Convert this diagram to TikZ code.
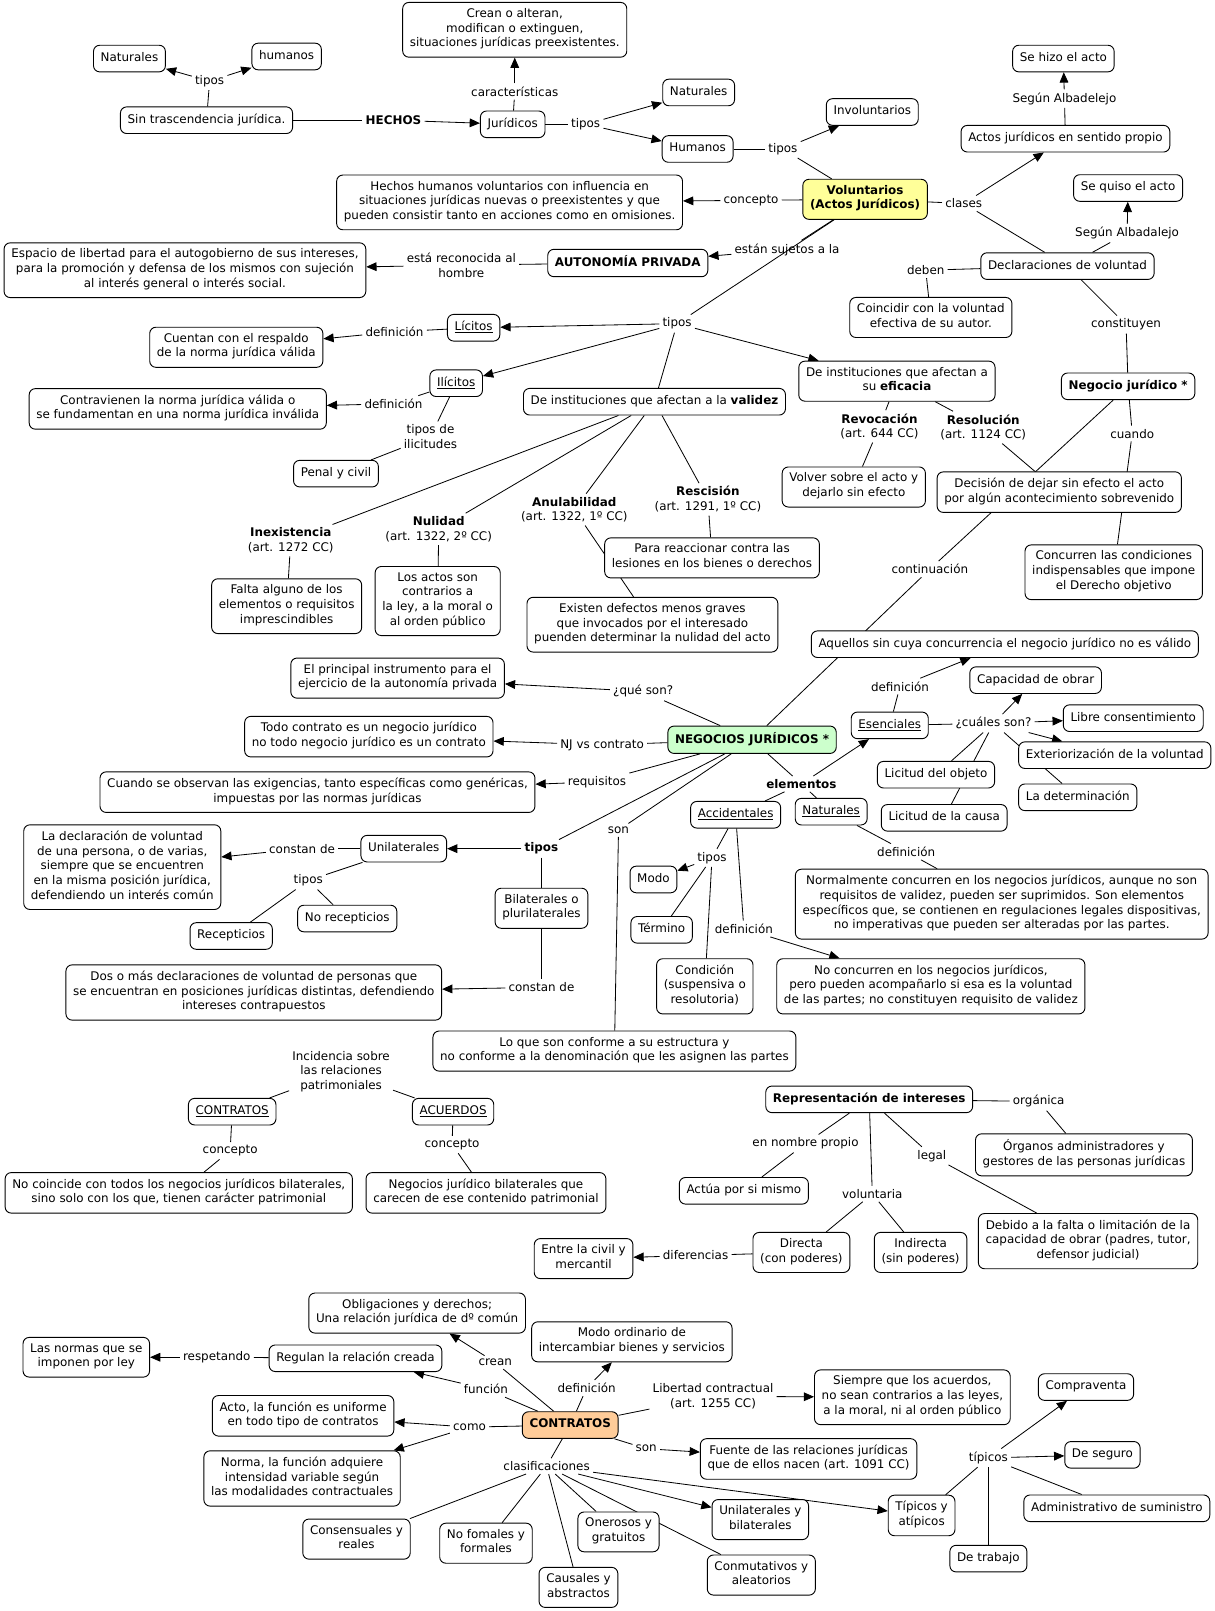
\documentclass[tikz,border=0pt]{standalone}
\usepackage{fontspec}
\setmainfont{DejaVu Sans}
\usetikzlibrary{arrows.meta,backgrounds}

\definecolor{volfill}{HTML}{FFFF99}
\definecolor{negfill}{HTML}{CCFFCC}
\definecolor{confill}{HTML}{FFCC99}

\newcommand{\cmfont}{\fontsize{11.6}{14.3}\selectfont}

\tikzset{
  % boxed concept
  concept/.style={draw, line width=0.9pt, rounded corners=6pt, fill=white,
    align=center, inner xsep=7pt, inner ysep=5.8pt, font=\cmfont,
    execute at begin node=\strut, execute at end node=\strut},
  % linking phrase (no box)
  linkph/.style={align=center, inner sep=3pt, font=\cmfont},
  cmline/.style={line width=0.8pt},
  cmarrow/.style={line width=0.8pt, -{Triangle[length=10pt,width=8.5pt]}}
}

\begin{document}
\begin{tikzpicture}[x=1pt, y=-1pt]

\useasboundingbox (0,-1) rectangle (1182,1567);

% ================================================================
% HECHOS
% ================================================================
\node[concept] (natA) at (126,56) {Naturales};
\node[concept] (humA) at (279,54) {humanos};
\node[linkph] (tiposA) at (204,78) {tipos};
\node[concept] (sinTras) at (201,116) {Sin trascendencia jurídica.};
\node[linkph, font=\cmfont\bfseries] (hechos) at (383,116) {HECHOS};
\node[concept] (creanBox) at (501,28) {Crean o alteran,\\modifican o extinguen,\\situaciones jurídicas preexistentes.};
\node[linkph] (caract) at (501,88) {características};
\node[concept] (juridicos) at (499,120) {Jurídicos};
\node[linkph] (tiposB) at (570,120) {tipos};
\node[concept] (natB) at (680,89) {Naturales};
\node[concept] (humB) at (679,144) {Humanos};
\node[linkph] (tiposC) at (762,144) {tipos};
\node[concept] (involunt) at (849,108) {Involuntarios};
\node[concept, fill=volfill, font=\cmfont\bfseries] (volunt) at (842,193) {Voluntarios\\(Actos Jurídicos)};
\node[concept] (hechHum) at (496,196) {Hechos humanos voluntarios con influencia en\\situaciones jurídicas nuevas o preexistentes y que\\pueden consistir tanto en acciones como en omisiones.};
\node[linkph] (concA) at (731,194) {concepto};

% ================================================================
% Clases de actos
% ================================================================
\node[linkph] (clases) at (938,197) {clases};
\node[concept] (actosProp) at (1037,134) {Actos jurídicos en sentido propio};
\node[linkph] (segunA) at (1036,95) {Según Albadelejo};
\node[concept] (seHizo) at (1035,56) {Se hizo el acto};
\node[concept] (seQuiso) at (1098,182) {Se quiso el acto};
\node[linkph] (segunB) at (1097,226) {Según Albadalejo};
\node[concept] (declar) at (1039,258) {Declaraciones de voluntad};
\node[linkph] (deben) at (901,262) {deben};
\node[concept] (coincidir) at (906,308) {Coincidir con la voluntad\\efectiva de su autor.};
\node[linkph] (constit) at (1096,315) {constituyen};
\node[concept, font=\cmfont\bfseries] (negJur) at (1098,375) {Negocio jurídico *};
\node[linkph] (cuandoL) at (1102,421) {cuando};

% ================================================================
% Autonomia privada y tipos
% ================================================================
\node[concept, font=\cmfont\bfseries] (autPriv) at (611,255) {AUTONOMÍA PRIVADA};
\node[linkph] (sujetos) at (766,242) {están sujetos a la};
\node[linkph] (reconoc) at (449,257) {está reconocida al\\hombre};
\node[concept] (espacio) at (180,262) {Espacio de libertad para el autogobierno de sus intereses,\\para la promoción y defensa de los mismos con sujeción\\al interés general o interés social.};
\node[linkph] (tiposD) at (659,314) {tipos};
\node[concept] (licitos) at (461,318) {\underline{Lícitos}};
\node[linkph] (defA) at (384,322) {definición};
\node[concept] (cuentan) at (230,337) {Cuentan con el respaldo\\de la norma jurídica válida};
\node[concept] (ilicitos) at (444,372) {\underline{Ilícitos}};
\node[linkph] (defB) at (383,392) {definición};
\node[concept] (contrav) at (173,397) {Contravienen la norma jurídica válida o\\se fundamentan en una norma jurídica inválida};
\node[linkph] (tiposIlic) at (419,424) {tipos de\\ilicitudes};
\node[concept] (penal) at (327,460) {Penal y civil};

% ================================================================
% Validez / eficacia
% ================================================================
\node[concept] (validez) at (637,390) {De instituciones que afectan a la \textbf{validez}};
\node[concept] (eficacia) at (873,370) {De instituciones que afectan a\\su \textbf{eficacia}};
\node[linkph] (revoc) at (856,414) {\textbf{Revocación}\\(art. 644 CC)};
\node[linkph] (resol) at (957,415) {\textbf{Resolución}\\(art. 1124 CC)};
\node[concept] (volver) at (831,473) {Volver sobre el acto y\\dejarlo sin efecto};
\node[concept] (decision) at (1031,478) {Decisión de dejar sin efecto el acto\\por algún acontecimiento sobrevenido};
\node[concept] (concurren) at (1084,556) {Concurren las condiciones\\indispensables que impone\\el Derecho objetivo};
\node[linkph] (contin) at (905,553) {continuación};
\node[linkph] (inexist) at (283,525) {\textbf{Inexistencia}\\(art. 1272 CC)};
\node[linkph] (nulidad) at (427,514) {\textbf{Nulidad}\\(art. 1322, 2º CC)};
\node[linkph] (anulab) at (559,495) {\textbf{Anulabilidad}\\(art. 1322, 1º CC)};
\node[linkph] (rescis) at (689,485) {\textbf{Rescisión}\\(art. 1291, 1º CC)};
\node[concept] (falta) at (279,589) {Falta alguno de los\\elementos o requisitos\\imprescindibles};
\node[concept] (actosContr) at (426,584) {Los actos son\\contrarios a\\la ley, a la moral o\\al orden público};
\node[concept] (reaccion) at (693,542) {Para reaccionar contra las\\lesiones en los bienes o derechos};
\node[concept] (defectos) at (635,607) {Existen defectos menos graves\\que invocados por el interesado\\puenden determinar la nulidad del acto};

% ================================================================
% NEGOCIOS JURIDICOS
% ================================================================
\node[concept] (aquellos) at (978,626) {Aquellos sin cuya concurrencia el negocio jurídico no es válido};
\node[concept] (principal) at (387,659) {El principal instrumento para el\\ejercicio de la autonomía privada};
\node[linkph] (queSon) at (626,672) {¿qué son?};
\node[concept] (todoContr) at (359,716) {Todo contrato es un negocio jurídico\\no todo negocio jurídico es un contrato};
\node[linkph] (njVs) at (586,724) {NJ vs contrato};
\node[concept, fill=negfill, font=\cmfont\bfseries] (negocios) at (732,719) {NEGOCIOS JURÍDICOS *};
\node[linkph] (defC) at (876,667) {definición};
\node[concept] (capacidad) at (1008,661) {Capacidad de obrar};
\node[concept] (esenc) at (866,705) {\underline{Esenciales}};
\node[linkph] (cuales) at (967,703) {¿cuáles son?};
\node[concept] (libre) at (1103,698) {Libre consentimiento};
\node[concept] (exterior) at (1085,734) {Exteriorización de la voluntad};
\node[concept] (licObj) at (911,753) {Licitud del objeto};
\node[concept] (determ) at (1049,775) {La determinación};
\node[concept] (licCausa) at (919,795) {Licitud de la causa};
\node[linkph] (requis) at (581,760) {requisitos};
\node[concept] (cuandoObs) at (309,770) {Cuando se observan las exigencias, tanto específicas como genéricas,\\impuestas por las normas jurídicas};
\node[linkph, font=\cmfont\bfseries] (elementos) at (780,762) {elementos};
\node[concept] (accid) at (716,792) {\underline{Accidentales}};
\node[concept] (naturC) at (809,789) {\underline{Naturales}};
\node[linkph] (defD) at (882,828) {definición};
\node[concept] (normalm) at (975,879) {Normalmente concurren en los negocios jurídicos, aunque no son\\requisitos de validez, pueden ser suprimidos. Son elementos\\específicos que, se contienen en regulaciones legales dispositivas,\\no imperativas que pueden ser alteradas por las partes.};
\node[linkph] (sonA) at (602,807) {son};
\node[linkph, font=\cmfont\bfseries] (tiposBold) at (527,825) {tipos};
\node[concept] (unilat) at (393,825) {Unilaterales};
\node[linkph] (constA) at (294,825) {constan de};
\node[concept] (laDecl) at (119,843) {La declaración de voluntad\\de una persona, o de varias,\\siempre que se encuentren\\en la misma posición jurídica,\\defendiendo un interés común};
\node[linkph] (tiposE) at (300,856) {tipos};
\node[concept] (noRecep) at (338,893) {No recepticios};
\node[concept] (recep) at (225,910) {Recepticios};
\node[concept] (bilat) at (527,883) {Bilaterales o\\plurilaterales};
\node[linkph] (constB) at (527,960) {constan de};
\node[concept] (dosMas) at (247,965) {Dos o más declaraciones de voluntad de personas que\\se encuentran en posiciones jurídicas distintas, defendiendo\\intereses contrapuestos};
\node[linkph] (tiposF) at (693,834) {tipos};
\node[concept] (modo) at (636,855) {Modo};
\node[concept] (termino) at (644,904) {Término};
\node[linkph] (defE) at (724,903) {definición};
\node[concept] (condic) at (686,959) {Condición\\(suspensiva o\\resolutoria)};
\node[concept] (noConc) at (906,959) {No concurren en los negocios jurídicos,\\pero pueden acompañarlo si esa es la voluntad\\de las partes; no constituyen requisito de validez};
\node[concept] (loQue) at (598,1022) {Lo que son conforme a su estructura y\\no conforme a la denominación que les asignen las partes};

% ================================================================
% Contratos / acuerdos, representacion
% ================================================================
\node[linkph] (incid) at (332,1042) {Incidencia sobre\\las relaciones\\patrimoniales};
\node[concept] (contrA) at (226,1081) {\underline{CONTRATOS}};
\node[concept] (acuerdos) at (441,1081) {\underline{ACUERDOS}};
\node[linkph] (concB) at (224,1119) {concepto};
\node[linkph] (concC) at (440,1113) {concepto};
\node[concept] (noCoinc) at (174,1160) {No coincide con todos los negocios jurídicos bilaterales,\\sino solo con los que, tienen carácter patrimonial};
\node[concept] (negBil) at (473,1160) {Negocios jurídico bilaterales que\\carecen de ese contenido patrimonial};
\node[concept, font=\cmfont\bfseries] (repres) at (846,1069) {Representación de intereses};
\node[linkph] (organica) at (1011,1071) {orgánica};
\node[concept] (organos) at (1055,1123) {Órganos administradores y\\gestores de las personas jurídicas};
\node[linkph] (nombre) at (784,1112) {en nombre propio};
\node[linkph] (legal) at (907,1124) {legal};
\node[concept] (actua) at (724,1158) {Actúa por si mismo};
\node[linkph] (voluntL) at (849,1161) {voluntaria};
\node[concept] (debido) at (1059,1207) {Debido a la falta o limitación de la\\capacidad de obrar (padres, tutor,\\defensor judicial)};
\node[concept] (directa) at (780,1218) {Directa\\(con poderes)};
\node[concept] (indirecta) at (896,1218) {Indirecta\\(sin poderes)};
\node[linkph] (difer) at (677,1221) {diferencias};
\node[concept] (entre) at (568,1224) {Entre la civil y\\mercantil};

% ================================================================
% CONTRATOS
% ================================================================
\node[concept] (obligac) at (406,1277) {Obligaciones y derechos;\\Una relación jurídica de dº común};
\node[concept] (modoOrd) at (615,1305) {Modo ordinario de\\intercambiar bienes y servicios};
\node[concept] (normasLey) at (84,1320) {Las normas que se\\imponen por ley};
\node[linkph] (respet) at (211,1320) {respetando};
\node[concept] (regulan) at (346,1321) {Regulan la relación creada};
\node[linkph] (creanL) at (482,1325) {crean};
\node[linkph] (funcion) at (473,1351) {función};
\node[linkph] (defF) at (571,1350) {definición};
\node[linkph] (libertad) at (694,1358) {Libertad contractual\\(art. 1255 CC)};
\node[concept] (siempre) at (888,1359) {Siempre que los acuerdos,\\no sean contrarios a las leyes,\\a la moral, ni al orden público};
\node[concept] (actoFunc) at (295,1377) {Acto, la función es uniforme\\en todo tipo de contratos};
\node[linkph] (como) at (457,1388) {como};
\node[concept, fill=confill, font=\cmfont\bfseries] (contrB) at (555,1386) {CONTRATOS};
\node[concept] (normaFunc) at (294,1438) {Norma, la función adquiere\\intensidad variable según\\las modalidades contractuales};
\node[linkph] (sonB) at (629,1409) {son};
\node[concept] (fuente) at (787,1419) {Fuente de las relaciones jurídicas\\que de ellos nacen (art. 1091 CC)};
\node[linkph] (clasif) at (532,1426) {clasificaciones};
\node[linkph] (tipicosL) at (962,1418) {típicos};
\node[concept] (compra) at (1057,1349) {Compraventa};
\node[concept] (seguro) at (1073,1415) {De seguro};
\node[concept] (admin) at (1087,1467) {Administrativo de suministro};
\node[concept] (tipAt) at (897,1474) {Típicos y\\atípicos};
\node[concept] (trabajo) at (962,1516) {De trabajo};
\node[concept] (consens) at (347,1497) {Consensuales y\\reales};
\node[concept] (noFom) at (473,1501) {No fomales y\\formales};
\node[concept] (causales) at (563,1544) {Causales y\\abstractos};
\node[concept] (onerosos) at (602,1490) {Onerosos y\\gratuitos};
\node[concept] (uniBil) at (740,1478) {Unilaterales y\\bilaterales};
\node[concept] (conmut) at (741,1532) {Conmutativos y\\aleatorios};

% ================================================================
% Connectors (behind the boxes)
% ================================================================
\begin{scope}[on background layer]
\foreach \a/\b in {sinTras/tiposA, sinTras/hechos, juridicos/caract, juridicos/tiposB,
    humB/tiposC, tiposC/volunt, volunt/concA, volunt/clases, clases/declar,
    actosProp/segunA, declar/segunB, declar/deben, deben/coincidir, declar/constit,
    constit/negJur, volunt/sujetos, autPriv/reconoc, volunt/tiposD, tiposD/validez,
    licitos/defA, ilicitos/defB, ilicitos/tiposIlic, tiposIlic/penal,
    validez/inexist, validez/nulidad, validez/anulab, validez/rescis,
    inexist/falta, nulidad/actosContr, anulab/defectos, rescis/reaccion,
    eficacia/revoc, eficacia/resol, revoc/volver, resol/decision,
    negJur/cuandoL, cuandoL/concurren, negJur/contin, contin/negocios,
    negocios/queSon, negocios/njVs, negocios/requis, negocios/elementos,
    elementos/accid, elementos/naturC, esenc/defC, esenc/cuales,
    cuales/licObj, cuales/licCausa, cuales/determ, naturC/defD, defD/normalm,
    accid/tiposF, tiposF/termino, tiposF/condic, accid/defE,
    negocios/sonA, sonA/loQue, negocios/tiposBold, tiposBold/bilat,
    unilat/constA, unilat/tiposE, tiposE/noRecep, tiposE/recep, bilat/constB,
    incid/contrA, incid/acuerdos, contrA/concB, concB/noCoinc, acuerdos/concC, concC/negBil,
    repres/organica, organica/organos, repres/nombre, nombre/actua,
    repres/legal, legal/debido, repres/voluntL, voluntL/directa, voluntL/indirecta,
    directa/difer, contrB/creanL, contrB/funcion, regulan/respet, contrB/defF,
    contrB/libertad, contrB/como, contrB/sonB, contrB/clasif,
    clasif/consens, clasif/noFom, clasif/causales, clasif/onerosos, clasif/conmut,
    tipAt/tipicosL, tipicosL/admin, tipicosL/trabajo}
  \draw[cmline] (\a) -- (\b);

\foreach \a/\b in {tiposA/natA, tiposA/humA, hechos/juridicos, caract/creanBox,
    tiposB/natB, tiposB/humB, tiposC/involunt, concA/hechHum, clases/actosProp,
    segunA/seHizo, segunB/seQuiso, sujetos/autPriv, reconoc/espacio,
    tiposD/licitos, tiposD/ilicitos, tiposD/eficacia, defA/cuentan, defB/contrav,
    queSon/principal, njVs/todoContr, requis/cuandoObs, elementos/esenc,
    defC/aquellos, cuales/capacidad, cuales/libre, cuales/exterior,
    tiposF/modo, defE/noConc, tiposBold/unilat, constA/laDecl, constB/dosMas,
    difer/entre, creanL/obligac, funcion/regulan, respet/normasLey, defF/modoOrd,
    libertad/siempre, como/actoFunc, como/normaFunc, sonB/fuente,
    clasif/uniBil, clasif/tipAt, tipicosL/compra, tipicosL/seguro}
  \draw[cmarrow] (\a) -- (\b);
\end{scope}

\end{tikzpicture}
\end{document}
